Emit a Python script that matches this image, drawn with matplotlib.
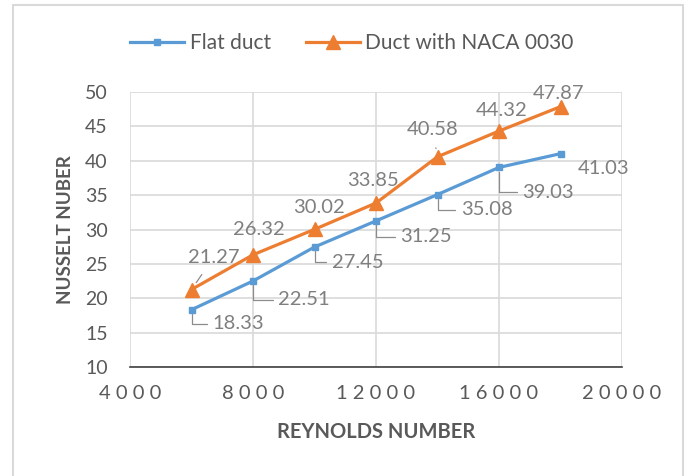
import matplotlib.pyplot as plt
from matplotlib.patches import Rectangle
from matplotlib.ticker import FuncFormatter

plt.rcParams['font.family'] = ['Lato', 'DejaVu Sans']

reynolds = [6000, 8000, 10000, 12000, 14000, 16000, 18000]
nu_flat = [18.33, 22.51, 27.45, 31.25, 35.08, 39.03, 41.03]
nu_naca = [21.27, 26.32, 30.02, 33.85, 40.58, 44.32, 47.87]

# label offsets in pixels (dx, dy) and whether a leader line is drawn
flat_offsets = [(47, -14), (51, -19), (43, -15), (50, -16), (49, -15), (49, -25), (43, -15)]
flat_leader = [True, True, True, True, True, True, False]
naca_offsets = [(22, 32), (6, 25), (4, 22), (-3, 23), (-5, 27), (3, 21), (-2, 13)]
naca_leader = [True, False, False, False, True, False, False]

blue = '#5B9BD5'
orange = '#ED7D31'
grey = '#595959'
label_grey = '#7F7F7F'

fig = plt.figure(figsize=(6.88, 4.76), dpi=100)
ax = fig.add_axes([130/688, 1-367/476, 492/688, 275/476])

ax.plot(reynolds, nu_flat, color=blue, lw=2.3, marker='s', ms=4.5, label='Flat duct', zorder=3)
ax.plot(reynolds, nu_naca, color=orange, lw=2.3, marker='^', ms=10, label='Duct with NACA 0030', zorder=3)

for x, y, (dx, dy), lead in zip(reynolds, nu_flat, flat_offsets, flat_leader):
    ap = None
    if lead:
        ap = dict(arrowstyle='-', color='#8C8C8C', lw=0.9, shrinkA=2, shrinkB=3,
                  connectionstyle='angle,angleA=0,angleB=90,rad=0')
    ax.annotate(f'{y:.2f}', (x, y), xytext=(dx, dy), textcoords='offset pixels',
                ha='center', va='center', fontsize=14.5, color=label_grey, arrowprops=ap)

for x, y, (dx, dy), lead in zip(reynolds, nu_naca, naca_offsets, naca_leader):
    ap = None
    if lead:
        ap = dict(arrowstyle='-', color='#8C8C8C', lw=0.9, shrinkA=5, shrinkB=6)
    ax.annotate(f'{y:.2f}', (x, y), xytext=(dx, dy), textcoords='offset pixels',
                ha='center', va='center', fontsize=14.5, color=label_grey, arrowprops=ap)

ax.set_xlim(4000, 20000)
ax.set_ylim(10, 50)
ax.set_xticks(range(4000, 20001, 4000))
ax.set_yticks(range(10, 51, 5))
# spaced-out digits on the x axis
ax.xaxis.set_major_formatter(FuncFormatter(lambda v, p: ' '.join(str(int(v)))))
ax.grid(True, color='#D9D9D9', lw=1.2)
ax.set_axisbelow(True)
for s in ['top', 'right', 'left']:
    ax.spines[s].set_visible(False)
ax.spines['bottom'].set_color('#404040')
ax.spines['bottom'].set_linewidth(1.2)
ax.tick_params(length=0, labelsize=14, labelcolor=grey)
ax.tick_params(axis='x', labelsize=14.5, pad=13)
ax.tick_params(axis='y', pad=16)

ax.set_xlabel('REYNOLDS NUMBER', fontsize=14.5, fontweight='bold', color=grey, labelpad=14)
ax.set_ylabel('NUSSELT NUBER', fontsize=13.5, fontweight='bold', color=grey, labelpad=8)

fig.legend(loc='center', bbox_to_anchor=(352/688, 1-43/476), ncol=2, frameon=False,
           fontsize=15, labelcolor=grey, handlelength=2.6, columnspacing=1.7, handletextpad=0.25)

fig.patches.append(Rectangle((13/688, -0.1), 670/688, 1.1-5/476, transform=fig.transFigure,
                             fill=False, edgecolor='#D9D9D9', lw=1.5))

fig.savefig('out.png', dpi=100)
